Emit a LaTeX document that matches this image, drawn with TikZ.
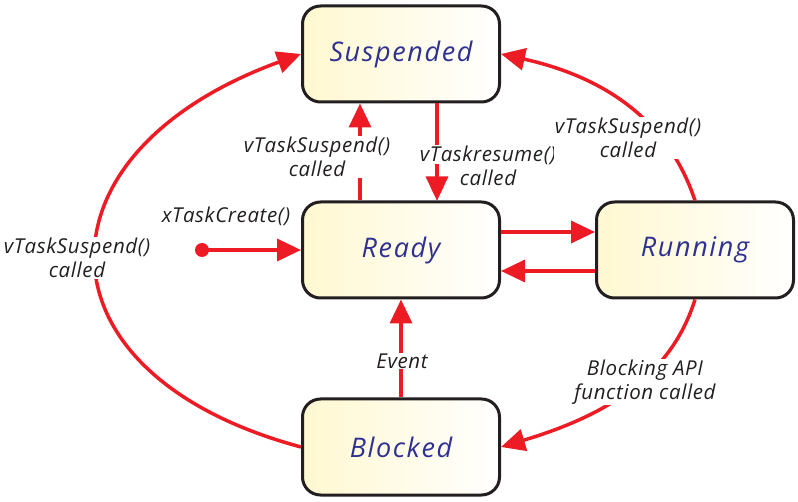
\documentclass[tikz,border=0pt]{standalone}
\usepackage{fontspec}
\setmainfont{Open Sans}
\newfontfamily\statefont[LetterSpace=6]{Open Sans}
\newfontfamily\labelfont[LetterSpace=3]{Open Sans}
\usetikzlibrary{arrows.meta}

\definecolor{arrowred}{HTML}{ED1C24}
\definecolor{statetext}{HTML}{2E3192}
\definecolor{boxline}{HTML}{231F20}
\definecolor{boxfill}{HTML}{FFF8D0}

\tikzset{
  state/.style={draw=boxline, line width=3pt, rounded corners=18pt,
    minimum width=197pt, minimum height=96pt,
    left color=boxfill, right color=white,
    text=statetext, font=\statefont\itshape\fontsize{27}{30}\selectfont},
  trans/.style={draw=arrowred, line width=3.5pt,
    -{Triangle[length=24pt,width=22pt]}},
  lbl/.style={fill=white, inner sep=1pt, align=center, text=boxline,
    font=\labelfont\itshape\fontsize{20.5}{23.5}\selectfont}
}

\begin{document}
\begin{tikzpicture}[x=1pt, y=-1pt]

\useasboundingbox (0,0) rectangle (798,502); %% page

%% states
\node[state] (suspended) at (401,54) {Suspended};
\node[state] (ready) at (401,250) {Ready};
\node[state] (running) at (695,250) {Running};
\node[state] (blocked) at (401,447) {Blocked};

%% transitions
\coordinate (create) at (202,250);
\fill[arrowred] (create) circle (7pt);
\draw[trans] (create) -- (ready.west);

\draw[trans] ([xshift=-41pt]ready.north) -- ([xshift=-41pt]suspended.south);
\draw[trans] ([xshift=36pt]suspended.south) -- ([xshift=36pt]ready.north);

\draw[trans] ([yshift=18pt]ready.east) -- ([yshift=18pt]running.west);
\draw[trans] ([yshift=-21pt]running.west) -- ([yshift=-21pt]ready.east);

\draw[trans] (blocked.north) -- (ready.south);

\draw[trans] (running.north) .. controls +(-30,-90) and +(90,20) .. (suspended.east);
\draw[trans] (running.south) .. controls +(-25,80) and +(100,-30) .. (blocked.east);
\draw[trans] (blocked.west) .. controls +(-272,-73) and +(-272,99) .. (suspended.west);

%% labels
\node[lbl] (suspA) at (317,157) {vTaskSuspend()\\called};
\node[lbl] (resume) at (488,166) {vTaskresume()\\called};
\node[lbl] (createlbl) at (226,216) {xTaskCreate()};
\node[lbl] (suspB) at (77,258) {vTaskSuspend()\\called};
\node[lbl] (suspC) at (628,138) {vTaskSuspend()\\called};
\node[lbl] (blocking) at (645,382) {Blocking API\\function called};
\node[lbl] (event) at (402,361) {Event};

%% resume head back on top of its label
\draw[trans] ([xshift=36pt,yshift=36pt]ready.north) -- ([xshift=36pt]ready.north);

\end{tikzpicture}
\end{document}
